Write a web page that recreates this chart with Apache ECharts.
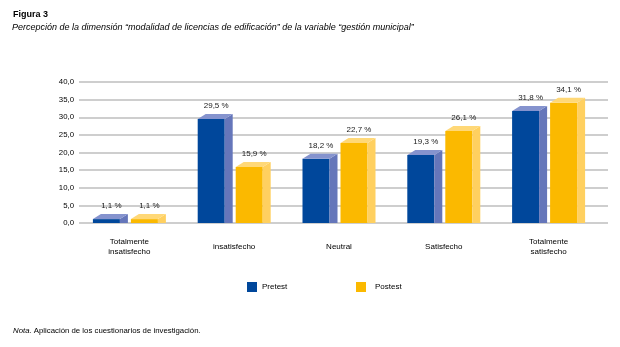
<!DOCTYPE html>
<html><head><meta charset="utf-8">
<script src="https://cdn.jsdelivr.net/npm/echarts@6/dist/echarts.min.js"></script>
<style>html,body{margin:0;padding:0;background:#fff}#c{width:620px;height:347px}</style>
</head><body><div id="c"></div>
<script>
const categories = ['Totalmente\ninsatisfecho', 'insatisfecho', 'Neutral', 'Satisfecho', 'Totalmente\nsatisfecho'];
const seriesNames = ['Pretest', 'Postest'];
const pretest = [1.1, 29.5, 18.2, 19.3, 31.8];
const postest = [1.1, 15.9, 22.7, 26.1, 34.1];
const yMin = 0, yMax = 40, yStep = 5;

const FONT = '"Liberation Sans", Arial, sans-serif';
const blueCols = ['#00479B', '#6576BA', '#8593CE'];
const yellowCols = ['#FBB900', '#FFD060', '#FFD877'];

function fmt(v) { return v.toFixed(1).replace('.', ',') + ' %'; }

function makeRender(offset, cols) {
  return function (params, api) {
    const i = api.value(0), v = api.value(1);
    const top = api.coord([i, v]);
    const base = api.coord([i, 0]);
    const w = 27, dx = 8, dy = 5;
    const x0 = top[0] + offset;
    const yT = top[1], yB = base[1];
    return {
      type: 'group',
      children: [
        { type: 'polygon', shape: { points: [[x0, yT], [x0 + w, yT], [x0 + w, yB], [x0, yB]] }, style: { fill: cols[0] } },
        { type: 'polygon', shape: { points: [[x0 + w, yT], [x0 + w + dx, yT - dy], [x0 + w + dx, yB], [x0 + w, yB]] }, style: { fill: cols[1] } },
        { type: 'polygon', shape: { points: [[x0, yT], [x0 + dx, yT - dy], [x0 + w + dx, yT - dy], [x0 + w, yT]] }, style: { fill: cols[2] } },
        { type: 'text', style: { text: fmt(v), x: x0 + w / 2 + 5, y: yT - 13, align: 'center', verticalAlign: 'middle', font: '8px ' + FONT, fill: '#1a1a1a' } }
      ]
    };
  };
}

const chart = echarts.init(document.getElementById('c'), null, { renderer: 'canvas' });
chart.setOption({
  animation: false,
  backgroundColor: '#fff',
  title: [
    { text: 'Figura 3', left: 13, top: 10, padding: 0, textStyle: { fontFamily: FONT, fontSize: 9, fontWeight: 'bold', color: '#000' } },
    { text: 'Percepción de la dimensión “modalidad de licencias de edificación” de la variable “gestión municipal”', left: 12, top: 23, padding: 0, textStyle: { fontFamily: FONT, fontSize: 9, fontStyle: 'italic', fontWeight: 'normal', color: '#000' } },
    { text: '{i|Nota}. Aplicación de los cuestionarios de investigación.', left: 13, top: 327, padding: 0, textStyle: { fontFamily: FONT, fontSize: 7.8, fontWeight: 'normal', color: '#000', rich: { i: { fontFamily: FONT, fontSize: 7.8, fontStyle: 'italic', color: '#000' } } } }
  ],
  legend: [
    { data: [seriesNames[0]], left: 247, top: 282, padding: 0, icon: 'rect', itemWidth: 10, itemHeight: 10, textStyle: { fontFamily: FONT, fontSize: 8, color: '#000' } },
    { data: [seriesNames[1]], left: 356, top: 282, padding: 0, icon: 'rect', itemWidth: 10, itemHeight: 10, textStyle: { fontFamily: FONT, fontSize: 8, color: '#000', padding: [0, 0, 0, 4] } }
  ],
  grid: [
    { left: 79, right: 12, top: 82, bottom: 124 },
    { left: 77, right: 19, top: 82, bottom: 124 }
  ],
  xAxis: [
    { gridIndex: 0, type: 'category', data: categories, show: false },
    {
      gridIndex: 1, type: 'category', data: categories,
      axisLine: { show: false }, axisTick: { show: false },
      axisLabel: { fontFamily: FONT, fontSize: 8, color: '#000', margin: 24, verticalAlign: 'middle', lineHeight: 10.5, interval: 0 }
    }
  ],
  yAxis: [
    {
      gridIndex: 0, type: 'value', min: yMin, max: yMax, interval: yStep,
      axisLine: { show: false }, axisTick: { show: false },
      axisLabel: { fontFamily: FONT, fontSize: 7.8, color: '#000', margin: 5, formatter: v => v.toFixed(1).replace('.', ',') },
      splitLine: { lineStyle: { color: '#BEBEBE', width: 1.5 } }
    },
    { gridIndex: 1, type: 'value', min: yMin, max: yMax, interval: yStep, show: false, splitLine: { show: false } }
  ],
  series: [
    { name: seriesNames[0], type: 'custom', xAxisIndex: 1, yAxisIndex: 1, itemStyle: { color: blueCols[0] }, renderItem: makeRender(-36.5, blueCols), data: pretest.map((v, i) => [i, v]) },
    { name: seriesNames[1], type: 'custom', xAxisIndex: 1, yAxisIndex: 1, itemStyle: { color: yellowCols[0] }, renderItem: makeRender(1.5, yellowCols), data: postest.map((v, i) => [i, v]) }
  ]
});
</script></body></html>
